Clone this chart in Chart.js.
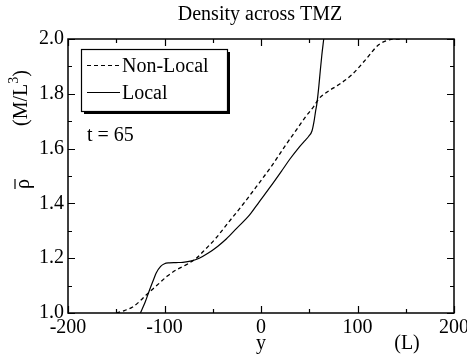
<!DOCTYPE html>
<html><head><meta charset="utf-8">
<script src="https://cdn.jsdelivr.net/npm/chart.js@4/dist/chart.umd.min.js"></script>
<style>html,body{margin:0;padding:0;background:#fff}#wrap{width:467px;height:354px}</style>
</head><body><div id="wrap"><canvas id="c" width="467" height="354"></canvas></div>
<script>
const localX = [-125, -120, -115.5, -111, -108.6, -104, -100, -95, -88, -81, -72, -64, -55, -45, -36, -25, -12, -2, 10, 21.7, 30, 39, 45, 49.5, 52.9, 55, 56.5, 58, 60, 61.5, 63, 65];
const localY = [1.0, 1.04, 1.084, 1.125, 1.146, 1.17, 1.18, 1.183, 1.184, 1.185, 1.19, 1.20, 1.218, 1.243, 1.27, 1.31, 1.357, 1.405, 1.462, 1.52, 1.562, 1.603, 1.627, 1.645, 1.665, 1.70, 1.735, 1.766, 1.83, 1.887, 1.94, 2.0];
const nonLocalX = [-150, -143, -133, -125, -119, -112, -105, -97, -88, -77, -67, -57, -47, -35, -19, -5, 11.7, 25, 39, 47, 54.6, 60, 70, 80, 94, 108, 121.6, 132, 137, 145];
const nonLocalY = [1.0, 1.007, 1.022, 1.045, 1.066, 1.088, 1.11, 1.135, 1.157, 1.177, 1.20, 1.235, 1.272, 1.325, 1.395, 1.46, 1.54, 1.61, 1.68, 1.72, 1.753, 1.782, 1.81, 1.832, 1.869, 1.923, 1.978, 1.996, 2.0, 2.0];
const xTicks = [-200, -100, 0, 100, 200];
const yTicks = [1.0, 1.2, 1.4, 1.6, 1.8, 2.0];
const titleText = 'Density across TMZ';
const annotation = 't = 65';

const SERIF = '"Liberation Serif", "Times New Roman", serif';
const toPts = (xs, ys) => xs.map((x, i) => ({x: x, y: ys[i]}));

const decor = {
  id: 'decor',
  afterDraw(chart) {
    const ctx = chart.ctx, a = chart.chartArea;
    const xs = chart.scales.x, ys = chart.scales.y;
    ctx.save();
    ctx.strokeStyle = '#000';
    ctx.lineWidth = 1.5;
    ctx.strokeRect(a.left, a.top, a.right - a.left, a.bottom - a.top);
    ctx.lineWidth = 1.2;
    for (let v = -200; v <= 200; v += 50) {
      const p = Math.round(xs.getPixelForValue(v)) + 0.5;
      const len = (v % 100 === 0) ? 7 : 4;
      ctx.beginPath();
      ctx.moveTo(p, a.bottom); ctx.lineTo(p, a.bottom - len);
      ctx.moveTo(p, a.top); ctx.lineTo(p, a.top + len);
      ctx.stroke();
    }
    for (let k = 0; k <= 10; k++) {
      const v = 1 + k * 0.1;
      const p = Math.round(ys.getPixelForValue(v)) + 0.5;
      const len = (k % 2 === 0) ? 7 : 4;
      ctx.beginPath();
      ctx.moveTo(a.left, p); ctx.lineTo(a.left + len, p);
      ctx.moveTo(a.right, p); ctx.lineTo(a.right - len, p);
      ctx.stroke();
    }
    ctx.fillStyle = '#000';
    ctx.font = '20px ' + SERIF;
    ctx.textAlign = 'center'; ctx.textBaseline = 'middle';
    ctx.fillText(titleText, 260, 15);
    ctx.fillText('y', xs.getPixelForValue(0), 344);
    ctx.fillText('(L)', 407, 344);
    ctx.save();
    ctx.translate(22, 98);
    ctx.rotate(-Math.PI / 2);
    ctx.textBaseline = 'middle';
    const p1 = '(M/L', p3 = ')';
    ctx.font = '14px ' + SERIF; const wS = ctx.measureText('3').width;
    ctx.font = '20px ' + SERIF;
    const w1 = ctx.measureText(p1).width, w3 = ctx.measureText(p3).width;
    let sx = -(w1 + wS + w3) / 2;
    ctx.textAlign = 'left';
    ctx.fillText(p1, sx, 0); sx += w1;
    ctx.font = '14px ' + SERIF; ctx.fillText('3', sx, -8); sx += wS;
    ctx.font = '20px ' + SERIF; ctx.fillText(p3, sx, 0);
    ctx.restore();
    ctx.save();
    ctx.translate(24, 184);
    ctx.rotate(-Math.PI / 2);
    ctx.font = '20px ' + SERIF;
    ctx.textAlign = 'center'; ctx.textBaseline = 'middle';
    ctx.fillText('\u03C1', 0, 0);
    ctx.lineWidth = 1.2;
    ctx.beginPath(); ctx.moveTo(-5, -9); ctx.lineTo(5, -9); ctx.stroke();
    ctx.restore();
    const bx = 81, by = 49, bw = 146, bh = 62;
    ctx.fillStyle = '#000';
    ctx.fillRect(bx + 3, by + 3, bw, bh);
    ctx.fillStyle = '#fff';
    ctx.fillRect(bx, by, bw, bh);
    ctx.lineWidth = 1.2;
    ctx.strokeStyle = '#000';
    ctx.strokeRect(bx + 0.5, by + 0.5, bw, bh);
    chart.data.datasets.forEach((ds, i) => {
      const yy = (i === 0 ? 65 : 92) + 0.5;
      ctx.beginPath();
      ctx.setLineDash(ds.borderDash || []);
      ctx.lineWidth = 1;
      ctx.moveTo(87, yy); ctx.lineTo(120, yy); ctx.stroke();
      ctx.setLineDash([]);
      ctx.fillStyle = '#000';
      ctx.font = '20px ' + SERIF;
      ctx.textAlign = 'left'; ctx.textBaseline = 'middle';
      ctx.fillText(ds.label, 122, yy + 1);
    });
    ctx.font = '20px ' + SERIF;
    ctx.textAlign = 'left'; ctx.textBaseline = 'middle';
    ctx.fillText(annotation, 87, 136);
    ctx.restore();
  }
};

new Chart(document.getElementById('c'), {
  type: 'scatter',
  data: {
    datasets: [
      {label: 'Non-Local', data: toPts(nonLocalX, nonLocalY), showLine: true, borderColor: '#000', borderWidth: 1.3, borderDash: [4, 3], pointRadius: 0, fill: false, cubicInterpolationMode: 'monotone'},
      {label: 'Local', data: toPts(localX, localY), showLine: true, borderColor: '#000', borderWidth: 1.2, pointRadius: 0, fill: false, cubicInterpolationMode: 'monotone'}
    ]
  },
  options: {
    responsive: false,
    animation: false,
    devicePixelRatio: 1,
    layout: {padding: {left: 0, right: 13, top: 39, bottom: 0}},
    plugins: {legend: {display: false}, title: {display: false}, tooltip: {enabled: false}},
    scales: {
      x: {
        type: 'linear', min: -200, max: 200,
        afterBuildTicks(s) { s.ticks = xTicks.map(v => ({value: v})); },
        afterFit(s) { s.height = 41; s.paddingLeft = 0; s.paddingRight = 0; },
        grid: {display: false, drawTicks: false},
        border: {display: false},
        ticks: {color: '#000', font: {family: SERIF, size: 20}, padding: 3, maxRotation: 0, autoSkip: false, callback: v => String(v)}
      },
      y: {
        type: 'linear', min: 1.0, max: 2.0,
        afterBuildTicks(s) { s.ticks = yTicks.map(v => ({value: v})); },
        afterFit(s) { s.width = 68; s.paddingTop = 0; s.paddingBottom = 0; },
        grid: {display: false, drawTicks: false},
        border: {display: false},
        ticks: {color: '#000', font: {family: SERIF, size: 20}, padding: 4, autoSkip: false, callback: v => Number(v).toFixed(1)}
      }
    }
  },
  plugins: [decor]
});
</script></body></html>
